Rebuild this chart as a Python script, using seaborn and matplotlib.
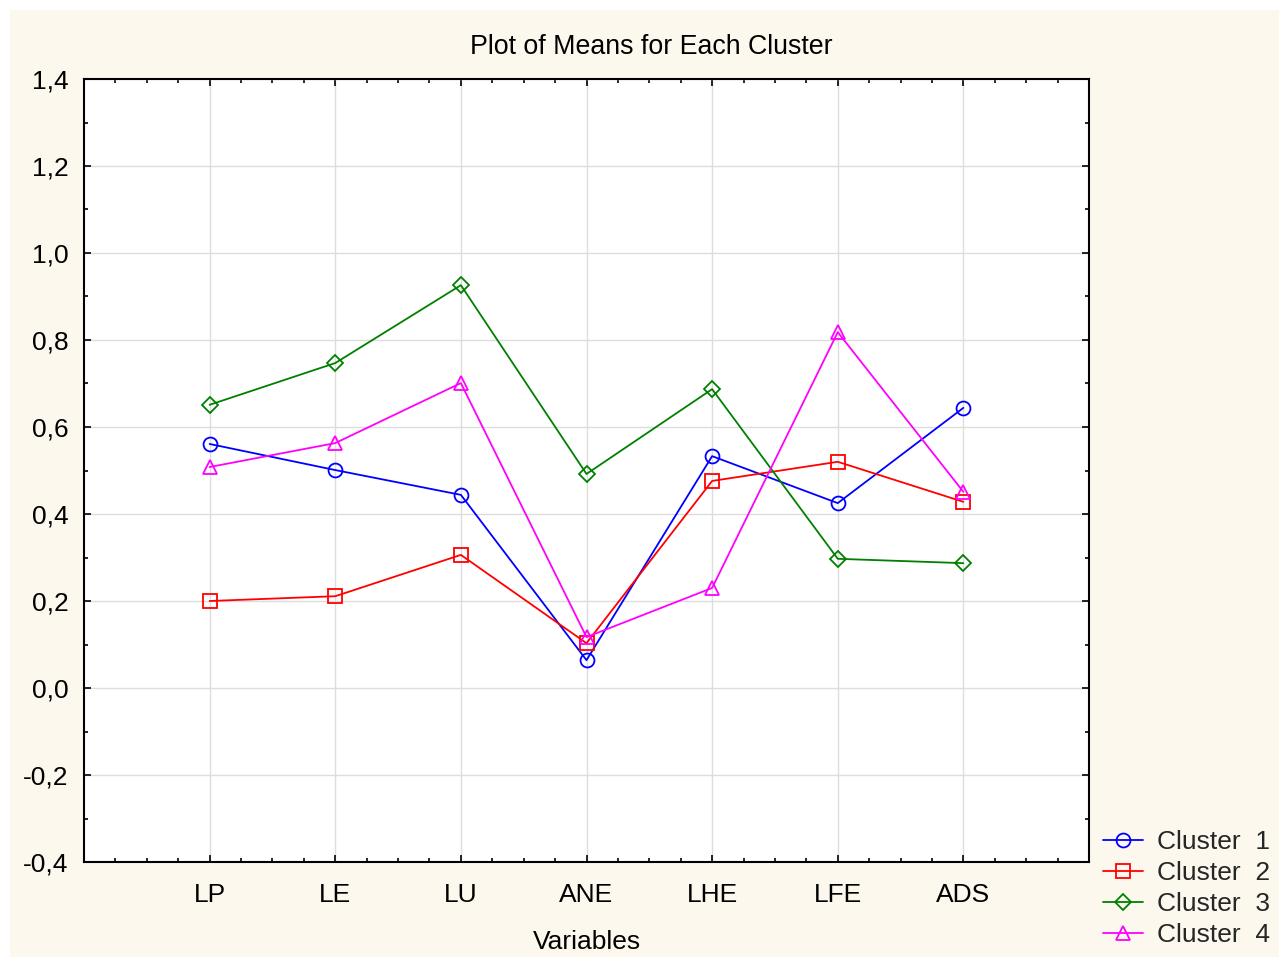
import matplotlib
matplotlib.use("Agg")
import matplotlib.pyplot as plt
import matplotlib.patches as mpatches
from matplotlib.ticker import MultipleLocator, FuncFormatter
import seaborn as sns
import pandas as pd

variables = ["LP", "LE", "LU", "ANE", "LHE", "LFE", "ADS"]
cluster_1 = [0.561, 0.501, 0.444, 0.064, 0.533, 0.425, 0.644]
cluster_2 = [0.200, 0.211, 0.306, 0.103, 0.476, 0.520, 0.428]
cluster_3 = [0.651, 0.747, 0.926, 0.492, 0.687, 0.297, 0.287]
cluster_4 = [0.508, 0.563, 0.701, 0.117, 0.230, 0.818, 0.451]
cluster_names = ["Cluster  1", "Cluster  2", "Cluster  3", "Cluster  4"]

series = [cluster_1, cluster_2, cluster_3, cluster_4]
rows = []
for name, vals in zip(cluster_names, series):
    for i, v in enumerate(vals):
        rows.append({"pos": i, "Variable": variables[i], "Cluster": name, "Mean": v})
df = pd.DataFrame(rows)

sns.set_theme(style="white")
plt.rcParams["font.family"] = ["Liberation Sans", "DejaVu Sans"]

fig = plt.figure(figsize=(12.79, 9.57), dpi=100, facecolor="white")
# cream panel behind the chart
fig.patches.append(mpatches.Rectangle((10 / 1279, 0), 1, 1 - 10 / 957,
                                      transform=fig.transFigure,
                                      facecolor="#FDF8EE", edgecolor="none", zorder=-10))
ax = fig.add_axes([84 / 1279, 1 - 862 / 957, (1089 - 84) / 1279, (862 - 79) / 957])
ax.set_facecolor("white")

colors = ["#0000FF", "#FF0000", "#008000", "#FF00FF"]
markers = ["o", "s", "D", "^"]
msizes = [10, 10, 8, 10]

for name, col, mk, ms in zip(cluster_names, colors, markers, msizes):
    sub = df[df["Cluster"] == name]
    sns.lineplot(data=sub, x="pos", y="Mean", ax=ax, color=col, marker=mk,
                 markersize=ms, markerfacecolor="none", markeredgecolor=col,
                 markeredgewidth=1.3, linewidth=1.3, label=name, legend=False,
                 errorbar=None, sort=False)

ax.set_xlim(-1, 7)
ax.set_ylim(-0.4, 1.4)
ax.set_xticks(range(len(variables)))
ax.set_xticklabels(variables)
ax.xaxis.set_minor_locator(MultipleLocator(0.25))
ax.yaxis.set_major_locator(MultipleLocator(0.2))
ax.yaxis.set_minor_locator(MultipleLocator(0.1))
ax.yaxis.set_major_formatter(FuncFormatter(lambda v, p: f"{v:.1f}".replace(".", ",").replace("-0,0", "0,0")))

ax.grid(True, which="major", color="#DDDDDD", linewidth=1.0)
ax.set_axisbelow(True)
for s in ax.spines.values():
    s.set_color("black")
    s.set_linewidth(1.5)
    s.set_visible(True)

ax.tick_params(which="both", direction="in", top=True, right=True, bottom=True, left=True,
               colors="black", labelsize=19, width=1.2)
ax.tick_params(which="major", length=5)
ax.tick_params(which="minor", length=3)
ax.tick_params(axis="y", which="major", pad=11)
ax.tick_params(axis="x", which="major", pad=15)

ax.set_xlabel("Variables", fontsize=19, labelpad=17, color="black")
ax.set_ylabel("")
# title is centred over the whole chart window rather than the axes
ax.set_title("Plot of Means for Each Cluster", fontsize=19.3, pad=18, color="black",
             x=(651.5 - 84) / 1005)

handles, labels = ax.get_legend_handles_labels()
fig.legend(handles, labels, loc="center left",
           bbox_to_anchor=(1103 / 1279, 1 - 888.5 / 957),
           frameon=False, fontsize=19, handlelength=1.5, handletextpad=0.55,
           labelspacing=0.27, borderpad=0, borderaxespad=0)

fig.savefig("out.png", dpi=100, facecolor=fig.get_facecolor())
